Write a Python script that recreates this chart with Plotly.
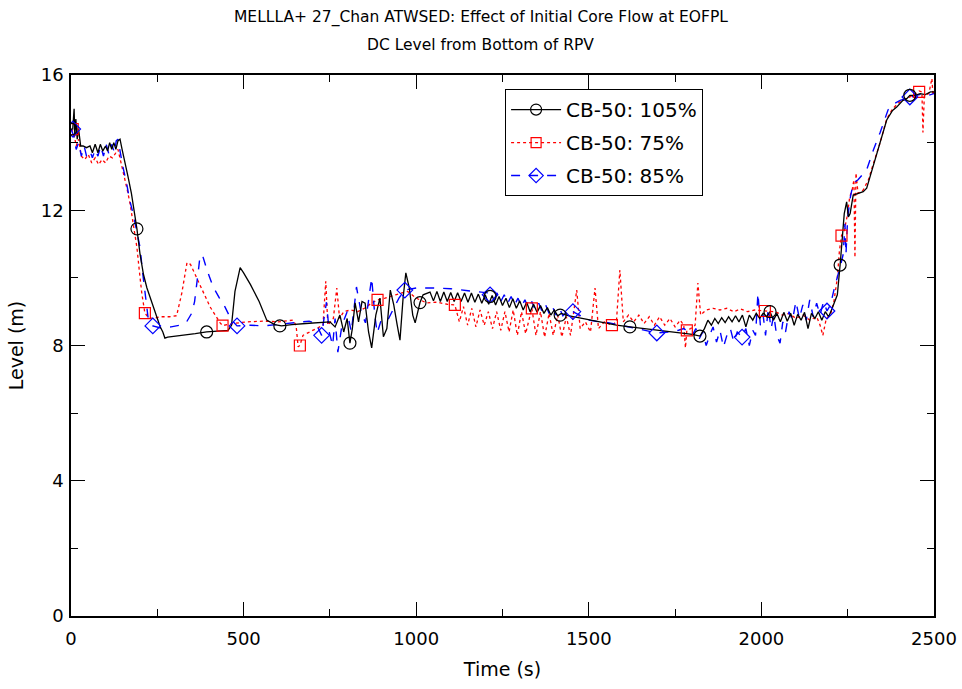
import plotly.graph_objects as go

# ---------------- data ----------------
t_105 = [0, 5, 9, 11, 14, 18, 22, 28, 35, 45, 55, 62, 70, 78, 85, 92, 100, 106, 112, 118, 124, 130, 136, 142, 148,
         155, 165, 175, 185, 191, 200, 210, 220, 230, 240, 250, 258, 266, 272, 280, 300, 330, 360, 393, 430, 455,
         465, 475, 490, 500, 520, 545, 567, 590, 610, 640, 680, 720, 750, 765, 779, 790, 800, 808, 815, 823, 833,
         843, 852, 862, 871, 883, 895, 905, 915, 925, 935, 945, 953, 962, 970, 980, 990, 997, 1004, 1011, 1020,
         1030, 1040, 1050, 1060, 1070, 1080, 1090, 1100, 1110, 1120, 1130, 1140, 1150, 1160, 1170, 1180, 1190,
         1200, 1210, 1220, 1230, 1240, 1250, 1260, 1270, 1280, 1290, 1300, 1310, 1320, 1330, 1340, 1350, 1360,
         1370, 1380, 1390, 1400, 1410, 1420, 1440, 1470, 1500, 1540, 1580, 1619, 1660, 1700, 1740, 1780, 1800,
         1822, 1835, 1845, 1855, 1865, 1875, 1885, 1895, 1905, 1915, 1925, 1935, 1945, 1955, 1965, 1975, 1985,
         1995, 2005, 2015, 2025, 2035, 2045, 2055, 2065, 2075, 2085, 2095, 2105, 2115, 2125, 2135, 2145, 2155,
         2165, 2175, 2185, 2195, 2205, 2213, 2220, 2228, 2234, 2240, 2247, 2252, 2257, 2262, 2266, 2281, 2295,
         2305, 2315, 2325, 2344, 2363, 2380, 2392, 2410, 2421, 2430, 2445, 2460, 2475, 2490, 2500]
l_105 = [14.4, 14.4, 15.0, 14.2, 14.7, 14.1, 14.4, 13.9, 13.9, 13.85, 13.9, 13.7, 13.95, 13.7, 13.95, 13.75, 13.9,
         13.75, 14.0, 13.8, 14.0, 13.8, 14.05, 14.1, 13.8, 13.5, 13.0, 12.5, 11.9, 11.45, 10.7, 10.1, 9.7, 9.4,
         9.1, 8.8, 8.56, 8.4, 8.22, 8.25, 8.27, 8.3, 8.35, 8.4, 8.42, 8.45, 8.6, 9.6, 10.3, 10.15, 9.8, 9.3, 8.75,
         8.62, 8.58, 8.62, 8.65, 8.68, 8.7, 8.55, 8.9, 8.4, 8.8, 8.07, 8.5, 9.26, 8.7, 9.3, 9.25, 8.4, 7.93, 8.9,
         9.4, 8.26, 8.5, 9.64, 9.2, 8.6, 8.16, 9.4, 10.15, 9.7, 8.9, 8.67, 9.0, 9.27, 9.5, 9.55, 9.58, 9.32, 9.6,
         9.3, 9.58, 9.3, 9.57, 9.3, 9.56, 9.3, 9.55, 9.28, 9.55, 9.28, 9.52, 9.25, 9.5, 9.22, 9.48, 9.2, 9.45,
         9.18, 9.4, 9.12, 9.38, 9.1, 9.32, 9.05, 9.28, 9.0, 9.22, 8.98, 9.18, 8.95, 9.12, 8.9, 9.05, 8.88, 8.95,
         8.88, 8.82, 8.75, 8.68, 8.6, 8.55, 8.5, 8.45, 8.4, 8.35, 8.33, 8.28, 8.5, 8.75, 8.6, 8.8, 8.65, 8.82,
         8.68, 8.85, 8.7, 8.88, 8.7, 8.9, 8.55, 8.9, 8.75, 8.95, 8.8, 8.95, 8.85, 9.0, 8.75, 8.95, 8.7, 8.98,
         8.72, 8.95, 8.6, 8.92, 8.75, 8.98, 8.5, 8.95, 8.8, 9.0, 8.75, 9.0, 8.85, 9.1, 9.3, 9.5, 10.38, 11.3,
         11.9, 12.25, 11.8, 11.9, 12.2, 12.45, 12.5, 12.55, 12.65, 13.0, 13.3, 14.0, 14.67, 14.95, 15.05, 15.25,
         15.3, 15.4, 15.4, 15.45, 15.42, 15.5, 15.5]

t_75 = [0, 8, 15, 22, 30, 40, 50, 60, 70, 80, 90, 100, 110, 120, 130, 136, 145, 155, 163, 171, 181, 191, 198, 205,
        214, 225, 238, 260, 285, 306, 321, 336, 346, 360, 374, 403, 432, 439, 470, 510, 560, 600, 643, 652, 658,
        663, 672, 690, 710, 730, 738, 744, 760, 770, 778, 790, 810, 830, 850, 870, 888, 910, 940, 975, 1000, 1030,
        1060, 1090, 1112, 1125, 1137, 1149, 1161, 1173, 1185, 1197, 1209, 1221, 1233, 1245, 1257, 1269, 1281,
        1293, 1305, 1317, 1335, 1347, 1360, 1372, 1385, 1397, 1410, 1422, 1435, 1447, 1465, 1475, 1490, 1505,
        1518, 1528, 1545, 1567, 1580, 1590, 1600, 1615, 1630, 1645, 1660, 1675, 1690, 1705, 1720, 1735, 1750,
        1765, 1775, 1780, 1784, 1795, 1808, 1816, 1824, 1840, 1860, 1880, 1900, 1920, 1940, 1960, 1980, 2010,
        2040, 2060, 2080, 2100, 2120, 2140, 2160, 2170, 2178, 2188, 2200, 2210, 2220, 2226, 2232, 2240, 2248,
        2256, 2263, 2268, 2271, 2274, 2280, 2295, 2310, 2325, 2344, 2363, 2380, 2400, 2420, 2440, 2457, 2465,
        2468, 2472, 2485, 2494, 2497, 2500]
l_75 = [14.4, 14.3, 13.9, 14.1, 13.6, 13.5, 13.65, 13.4, 13.55, 13.35, 13.5, 13.4, 13.6, 13.55, 13.7, 13.8, 13.4,
        13.0, 12.6, 12.2, 11.6, 10.9, 10.2, 9.55, 8.96, 8.82, 8.8, 8.85, 8.85, 8.88, 9.55, 10.45, 10.4, 10.1, 9.75,
        9.14, 8.67, 8.59, 8.65, 8.7, 8.72, 8.7, 8.75, 8.6, 7.96, 8.0, 8.3, 8.4, 8.5, 8.6, 9.9, 8.6, 8.8, 9.7, 8.8,
        9.0, 9.05, 9.0, 9.1, 9.25, 9.35, 9.4, 9.5, 9.6, 9.4, 9.26, 9.28, 9.22, 9.2, 8.7, 9.15, 8.6, 9.1, 8.55,
        9.05, 8.6, 9.0, 8.5, 9.0, 8.45, 9.0, 8.4, 9.05, 8.3, 9.0, 8.35, 9.1, 8.3, 9.0, 8.25, 8.95, 8.3, 8.9, 8.25,
        8.85, 8.3, 9.64, 8.5, 8.7, 8.4, 9.7, 8.5, 8.7, 8.6, 8.7, 10.23, 8.7, 8.9, 8.7, 8.9, 8.65, 8.85, 8.6, 8.85,
        8.6, 8.8, 8.55, 8.75, 8.6, 7.93, 8.45, 8.5, 8.6, 9.85, 8.9, 9.05, 9.1, 9.05, 9.1, 9.0, 9.08, 9.0, 9.05,
        9.02, 9.0, 8.9, 8.95, 8.8, 8.9, 8.75, 8.85, 8.6, 8.3, 8.8, 8.9, 9.3, 10.0, 10.8, 11.25, 11.4, 11.8, 12.4,
        12.6, 12.9, 10.6, 13.1, 12.5, 12.6, 12.9, 13.4, 14.0, 14.7, 15.0, 15.2, 15.3, 15.4, 15.53, 15.5, 14.3,
        15.4, 15.45, 15.9, 15.4, 15.5]

t_85 = [0, 8, 15, 22, 30, 38, 45, 55, 62, 70, 78, 86, 94, 102, 110, 118, 126, 131, 136, 142, 150, 161, 170, 180,
        190, 200, 207, 214, 223, 237, 260, 290, 316, 335, 350, 358, 364, 370, 374, 383, 395, 412, 430, 446, 460,
        470, 481, 520, 560, 600, 630, 660, 690, 710, 726, 733, 740, 748, 758, 765, 773, 785, 800, 812, 827, 840,
        853, 871, 880, 887, 900, 920, 933, 950, 967, 1000, 1050, 1100, 1150, 1214, 1225, 1235, 1245, 1255, 1265,
        1275, 1285, 1295, 1305, 1315, 1325, 1335, 1345, 1355, 1365, 1375, 1385, 1395, 1405, 1415, 1425, 1440,
        1454, 1480, 1500, 1530, 1560, 1590, 1620, 1650, 1697, 1730, 1760, 1775, 1790, 1800, 1810, 1820, 1830,
        1840, 1850, 1860, 1870, 1880, 1890, 1900, 1910, 1920, 1930, 1944, 1955, 1965, 1975, 1983, 1990, 1997,
        2005, 2012, 2020, 2028, 2036, 2044, 2054, 2062, 2070, 2080, 2090, 2100, 2110, 2120, 2130, 2140, 2150,
        2160, 2170, 2180, 2190, 2200, 2210, 2220, 2230, 2237, 2242, 2245, 2250, 2258, 2266, 2280, 2305, 2325,
        2344, 2367, 2385, 2402, 2430, 2450, 2470, 2485, 2500]
l_85 = [14.4, 14.2, 13.8, 14.0, 13.6, 13.9, 13.6, 13.75, 13.55, 13.8, 13.6, 13.9, 13.6, 13.95, 13.65, 13.95, 13.7,
        14.05, 14.1, 13.7, 13.3, 12.8, 12.3, 11.9, 11.4, 10.9, 10.2, 9.64, 8.85, 8.58, 8.52, 8.55, 8.6, 8.7, 8.96,
        9.3, 9.73, 10.3, 10.68, 10.6, 10.2, 9.73, 9.4, 9.14, 8.85, 8.7, 8.58, 8.6, 8.58, 8.62, 8.65, 8.7, 8.72,
        8.65, 8.3, 8.8, 9.28, 8.4, 8.0, 8.8, 7.8, 8.6, 9.0, 8.4, 9.73, 9.0, 8.67, 10.0, 8.9, 8.37, 8.8, 8.8,
        9.05, 9.4, 9.64, 9.7, 9.7, 9.68, 9.62, 9.55, 9.35, 9.55, 9.3, 9.5, 9.25, 9.45, 9.2, 9.4, 9.15, 9.35, 9.1,
        9.3, 9.05, 9.25, 9.0, 9.2, 8.95, 9.15, 8.9, 9.1, 8.88, 9.05, 9.0, 8.85, 8.75, 8.7, 8.67, 8.6, 8.55, 8.48,
        8.37, 8.4, 8.45, 8.5, 8.4, 8.3, 8.5, 8.2, 8.4, 8.0, 8.3, 8.55, 8.1, 8.45, 7.95, 8.3, 8.5, 8.1, 8.4, 8.25,
        8.5, 8.0, 8.45, 8.3, 9.55, 8.6, 8.9, 8.3, 9.1, 8.5, 8.9, 8.3, 8.07, 8.7, 8.4, 9.0, 8.75, 9.3, 8.8, 9.2,
        8.75, 9.35, 8.85, 9.25, 8.9, 9.3, 9.02, 9.2, 9.64, 10.0, 10.4, 10.7, 11.6, 10.7, 11.8, 12.4, 12.8, 12.9,
        13.2, 13.8, 14.3, 14.97, 15.15, 15.25, 15.35, 15.4, 15.45, 15.4, 15.45]

# marker positions (as they appear on the curves)
mt_105 = [0, 191, 393, 605, 808, 1011, 1214, 1417, 1619, 1822, 2025, 2228, 2430]
ml_105 = [14.4, 11.45, 8.4, 8.58, 8.07, 9.27, 9.45, 8.9, 8.55, 8.28, 9.0, 10.38, 15.4]
mt_75 = [5, 214, 439, 663, 888, 1112, 1335, 1567, 1784, 2010, 2232, 2457]
ml_75 = [14.4, 8.96, 8.59, 8.0, 9.35, 9.2, 9.1, 8.6, 8.45, 9.02, 11.25, 15.5]
mt_85 = [5, 237, 481, 726, 967, 1214, 1454, 1697, 1944, 2190, 2430]
ml_85 = [14.4, 8.58, 8.58, 8.3, 9.64, 9.5, 9.0, 8.37, 8.25, 9.02, 15.35]

names = ["CB-50: 105%", "CB-50: 75%", "CB-50: 85%"]
title_lines = ["MELLLA+ 27_Chan ATWSED: Effect of Initial Core Flow at EOFPL", "DC Level from Bottom of RPV"]

styles = [
    dict(color="black", dash="solid", width=1.3, symbol="circle-open", size=12),
    dict(color="red", dash="dot", width=1.3, symbol="square-open", size=11),
    dict(color="blue", dash="dash", width=1.4, symbol="diamond-open", size=12),
]
series = [(t_105, l_105, mt_105, ml_105), (t_75, l_75, mt_75, ml_75), (t_85, l_85, mt_85, ml_85)]

fig = go.Figure()
draw_order = [1, 2, 0]
for i in draw_order:
    t, l, mt, ml = series[i]
    s = styles[i]
    fig.add_trace(go.Scatter(x=t, y=l, mode="lines", showlegend=False,
                             line=dict(color=s["color"], dash=s["dash"], width=s["width"])))
for i in draw_order:
    t, l, mt, ml = series[i]
    s = styles[i]
    fig.add_trace(go.Scatter(x=mt, y=ml, mode="markers", showlegend=False,
                             marker=dict(symbol=s["symbol"], size=s["size"], color=s["color"],
                                         line=dict(width=1.2, color=s["color"]))))
for i in range(3):
    s = styles[i]
    fig.add_trace(go.Scatter(x=[None], y=[None], mode="lines+markers", name=names[i], legendgroup=f"g{i}",
                             line=dict(color=s["color"], dash=s["dash"], width=s["width"]),
                             marker=dict(symbol=s["symbol"], size=s["size"] - 1, color=s["color"],
                                         line=dict(width=1.2, color=s["color"]))))

font_main = "DejaVu Sans"
axis_common = dict(showline=True, linecolor="black", linewidth=1.5, mirror="allticks", ticks="inside",
                   ticklen=14, tickwidth=1.2, tickcolor="black", showgrid=False, zeroline=False,
                   automargin=False, tickfont=dict(family=font_main, size=18, color="black"))

fig.update_xaxes(range=[0, 2500], tickmode="linear", tick0=0, dtick=500, ticklabelstandoff=6,
                 minor=dict(ticks="inside", ticklen=7, tickwidth=1, tickcolor="black", dtick=250, tick0=0),
                 title=dict(text="Time (s)", font=dict(family=font_main, size=19, color="black"), standoff=14),
                 **axis_common)
fig.update_yaxes(range=[0, 16], tickmode="linear", tick0=0, dtick=4, ticklabelstandoff=2,
                 minor=dict(ticks="inside", ticklen=7, tickwidth=1, tickcolor="black", dtick=2, tick0=0),
                 title=dict(text="Level (m)", font=dict(family=font_main, size=19, color="black"), standoff=12),
                 **axis_common)

fig.add_annotation(text=title_lines[0], xref="paper", yref="paper", x=0.475, y=1.107, showarrow=False,
                   xanchor="center", yanchor="middle", font=dict(family=font_main, size=15.5, color="black"))
fig.add_annotation(text=title_lines[1], xref="paper", yref="paper", x=0.475, y=1.055, showarrow=False,
                   xanchor="center", yanchor="middle", font=dict(family=font_main, size=15.5, color="black"))

fig.update_layout(
    width=962, height=689,
    margin=dict(l=71, r=28, t=75, b=73),
    plot_bgcolor="white", paper_bgcolor="white",
    legend=dict(x=0.503, y=0.974, xanchor="left", yanchor="top", bordercolor="black", borderwidth=1,
                bgcolor="white", font=dict(family=font_main, size=20, color="black"),
                itemwidth=50, tracegroupgap=4, traceorder="grouped"),
)

fig.write_html("out.html")
